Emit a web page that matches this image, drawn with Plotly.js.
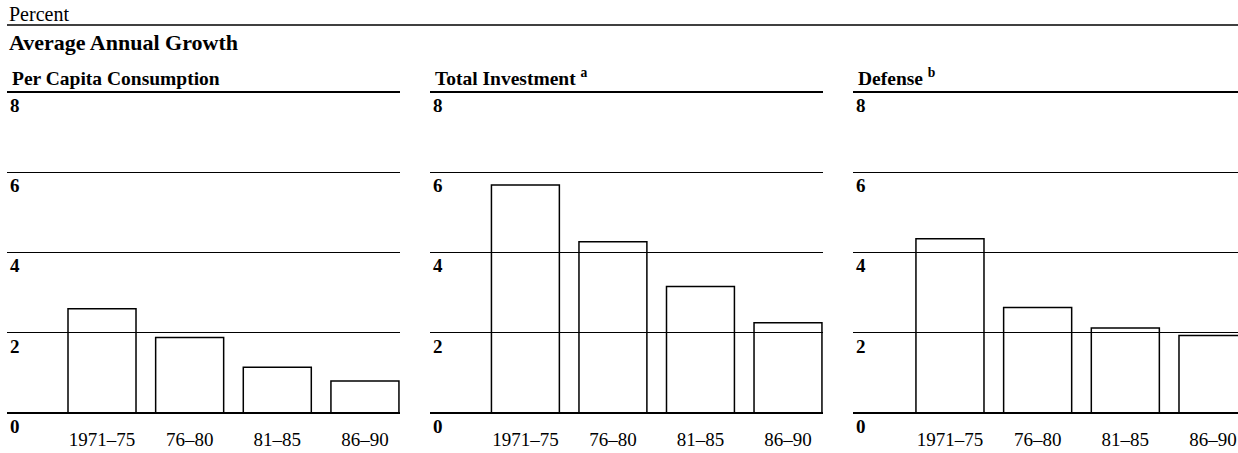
<!DOCTYPE html>
<html>
<head>
<meta charset="utf-8">
<script src="https://cdn.plot.ly/plotly-3.0.1.min.js"></script>
<style>
  body { margin: 0; background: #fff; }
  #chart { width: 1238px; height: 453px; }
</style>
</head>
<body>
<div id="chart"></div>
<script>
/* Average annual growth, three small bar panels */

// categories and values
var periods = ['1971\u201375', '76\u201380', '81\u201385', '86\u201390'];
var consumption = [2.6, 1.88, 1.14, 0.8];
var investment = [5.68, 4.27, 3.15, 2.25];
var defense = [4.34, 2.63, 2.12, 1.93];
var yTicks = [0, 2, 4, 6, 8];
var panelTitles = ['<b>Per Capita Consumption</b>',
                   '<b>Total Investment <sup>a</sup></b>',
                   '<b>Defense <sup>b</sup></b>'];

var FONT = 'Liberation Serif, Times New Roman, serif';
var W = 1238, H = 453;
var Y_TOP = 8.12;                       //range top, a little above the 8 rule
var PX_PER_UNIT = (413 - 92) / 8;       //0 rule at 413px, 8 rule at 92px

//build one bar trace per panel
function makeBars(values, n) {
  var sfx = n === 1 ? '' : String(n);
  return {
    type: 'bar',
    x: periods,
    y: values,
    xaxis: 'x' + sfx,
    yaxis: 'y' + sfx,
    marker: {
      color: 'rgba(255,255,255,0)',
      line: {color: '#000', width: 1.5}
    },
    hoverinfo: 'x+y'
  };
}

function makeXAxis(domain, range, n) {
  return {
    domain: domain,
    anchor: n === 1 ? 'y' : 'y' + n,
    type: 'category',
    range: range,
    showgrid: false,
    zeroline: false,
    showline: false,
    ticks: '',
    ticklabelstandoff: 13,
    tickfont: {family: FONT, size: 19, color: '#000'}
  };
}

function makeYAxis(n) {
  return {
    domain: [(H - 413) / H, (H - 413 + Y_TOP * PX_PER_UNIT) / H],
    anchor: n === 1 ? 'x' : 'x' + n,
    range: [0, Y_TOP],
    tickvals: yTicks,
    ticktext: yTicks.map(function(v) { return '<b>' + v + '</b>'; }),
    showgrid: true,
    gridcolor: '#000',
    gridwidth: 1.3,
    zeroline: true,
    zerolinecolor: '#000',
    zerolinewidth: 1.3,
    showline: false,
    ticks: '',
    ticklabelposition: 'inside bottom',
    ticklabeloverflow: 'allow',
    tickfont: {family: FONT, size: 19, color: '#000'}
  };
}

var data = [
  makeBars(consumption, 1),
  makeBars(investment, 2),
  makeBars(defense, 3)
];

var annotations = [
  {text: 'Percent', xref: 'paper', yref: 'paper', x: 7 / W, y: 1 - 14 / H,
   xanchor: 'left', yanchor: 'middle', showarrow: false,
   font: {family: FONT, size: 20, color: '#000'}},
  {text: '<b>Average Annual Growth</b>', xref: 'paper', yref: 'paper', x: 7 / W, y: 1 - 42 / H,
   xanchor: 'left', yanchor: 'middle', showarrow: false,
   font: {family: FONT, size: 22, color: '#000'}}
];
panelTitles.forEach(function(t, i) {
  var sfx = i === 0 ? '' : String(i + 1);
  annotations.push({
    text: t, xref: 'x' + sfx, yref: 'y' + sfx,
    x: 0, xshift: 0, y: 8, yshift: 1,
    xanchor: 'left', yanchor: 'bottom', showarrow: false,
    font: {family: FONT, size: 19.5, color: '#000'}
  });
});
// panel titles start at the left edge of each panel
annotations[2].x = -1.084 + 0.03;
annotations[3].x = -1.09 + 0.03;
annotations[4].x = -1.106 + 0.03;

var layout = {
  width: W,
  height: H,
  margin: {l: 0, r: 0, t: 0, b: 0},
  paper_bgcolor: '#fff',
  plot_bgcolor: 'rgba(0,0,0,0)',
  showlegend: false,
  bargap: 0.224,
  font: {family: FONT, color: '#000'},
  xaxis: makeXAxis([7 / W, 400 / W], [-1.084, 3.4], 1),
  xaxis2: makeXAxis([430 / W, 823 / W], [-1.09, 3.4], 2),
  xaxis3: makeXAxis([853 / W, 1], [-1.106, 3.285], 3),
  yaxis: makeYAxis(1),
  yaxis2: makeYAxis(2),
  yaxis3: makeYAxis(3),
  annotations: annotations,
  shapes: [
    //rule under "Percent"
    {type: 'line', xref: 'paper', yref: 'paper', x0: 7 / W, x1: 1,
     y0: 1 - 25 / H, y1: 1 - 25 / H, line: {color: '#000', width: 1.5}}
  ]
};

Plotly.newPlot('chart', data, layout, {staticPlot: true});
</script>
</body>
</html>
